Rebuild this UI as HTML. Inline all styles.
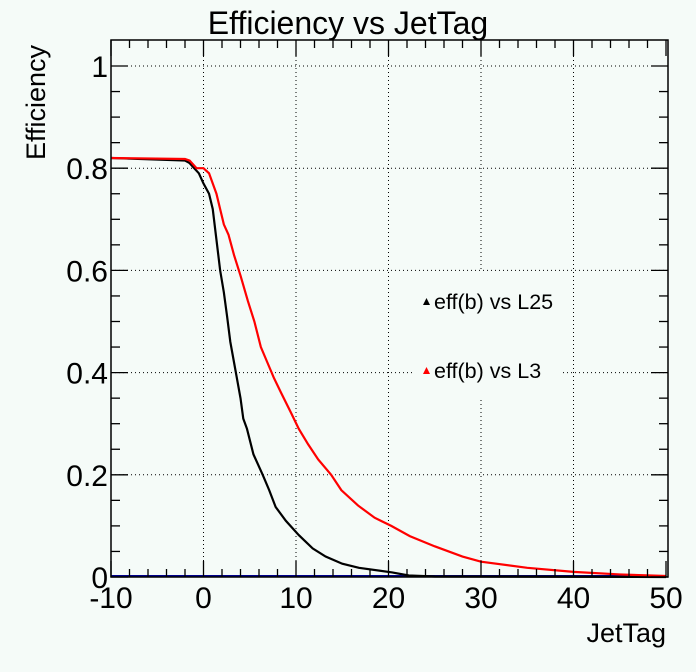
<!DOCTYPE html>
<html><head><meta charset="utf-8"><style>
html,body{margin:0;padding:0;background:#f5fbf8;}
svg{display:block;font-family:"Liberation Sans",sans-serif;}
</style></head><body>
<svg id="c" width="696" height="672" viewBox="0 0 696 672">
<rect width="696" height="672" fill="#f5fbf8"/>
<text x="348" y="34" font-size="32" text-anchor="middle">Efficiency vs JetTag</text>
<g id="grid"></g>
<g id="series"></g>
<rect x="111" y="40" width="557" height="537" fill="none" stroke="#000" stroke-width="1.5"/>
<g id="axes"></g>
<text x="666" y="642" font-size="27" text-anchor="end">JetTag</text>
<text transform="translate(45,160) rotate(-90)" font-size="27">Efficiency</text>
<g>
<rect x="413" y="272" width="150" height="128" fill="#f5fbf8"/>
<g>
<polygon points="423,305 430,305 426.5,298" fill="#000"/>
<text x="434" y="309" font-size="21.5">eff(b) vs L25</text>
</g>
<g>
<polygon points="423,374 430,374 426.5,367" fill="#f00"/>
<text x="434" y="378" font-size="21.5">eff(b) vs L3</text>
</g>
</g>
</svg>
<script>
const xTicks = [-10, 0, 10, 20, 30, 40, 50];
const yTicks = [0, 0.2, 0.4, 0.6, 0.8, 1];
const yTickLabels = ["0", "0.2", "0.4", "0.6", "0.8", "1"];
const l25X = [-10, -2, -1.5, -1, -0.5, 0, 0.6, 1.0, 1.4, 1.8, 2.2, 2.55, 2.9, 3.3, 3.6, 4.0, 4.3, 4.7, 5.4, 6.4, 7.1, 7.8, 8.9, 10.3, 11.8, 13.2, 15, 16.8, 20.4, 22.2, 25, 50];
const l25Y = [0.82, 0.815, 0.81, 0.80, 0.79, 0.77, 0.75, 0.72, 0.66, 0.60, 0.557, 0.51, 0.46, 0.42, 0.39, 0.35, 0.31, 0.29, 0.24, 0.20, 0.17, 0.137, 0.11, 0.082, 0.056, 0.04, 0.026, 0.018, 0.009, 0.003, 0.001, 0];
const l3X = [-10, -2, -1.5, -0.75, 0, 0.6, 1.0, 1.4, 1.8, 2.2, 2.7, 3.3, 4.0, 4.8, 5.5, 6.2, 6.9, 7.6, 8.4, 9.5, 10.3, 11.3, 12.4, 13.8, 14.9, 16.7, 18.5, 20.3, 22.3, 25, 28, 30, 35, 40, 45, 50];
const l3Y = [0.82, 0.818, 0.815, 0.80, 0.80, 0.79, 0.77, 0.75, 0.72, 0.69, 0.67, 0.63, 0.59, 0.54, 0.50, 0.45, 0.42, 0.39, 0.36, 0.32, 0.29, 0.26, 0.23, 0.20, 0.17, 0.14, 0.116, 0.10, 0.08, 0.06, 0.04, 0.03, 0.018, 0.01, 0.005, 0.002];

const NS = "http://www.w3.org/2000/svg";
const X0 = 111, X1 = 666, Y0 = 577, Y1 = 66;
function sx(v){ return X0 + (v + 10) / 60 * (X1 - X0); }
function sy(v){ return Y0 - v * (Y0 - Y1); }
function mk(tag, attrs, parent){
  const e = document.createElementNS(NS, tag);
  for (const k in attrs) e.setAttribute(k, attrs[k]);
  parent.appendChild(e); return e;
}
const grid = document.getElementById('grid');
const axes = document.getElementById('axes');
const series = document.getElementById('series');

xTicks.forEach(function(t){
  const x = sx(t);
  if (t > -10 && t < 50) {
    const g = mk('line', {x1:x, x2:x, y1:40, y2:577, stroke:'#000', 'stroke-width':1, 'stroke-dasharray':'1,3'}, grid);
    
    
  }
  const lb = mk('text', {x:x, y:608, 'font-size':30, 'text-anchor':'middle'}, axes);
  lb.textContent = String(t);
  
  
});
yTicks.forEach(function(t, i){
  const y = sy(t);
  if (t > 0) {
    const g = mk('line', {x1:111, x2:668, y1:y, y2:y, stroke:'#000', 'stroke-width':1, 'stroke-dasharray':'1,3'}, grid);
    
    
  }
  const lb = mk('text', {x:108, y:y + 11, 'font-size':30, 'text-anchor':'end'}, axes);
  lb.textContent = yTickLabels[i];
  
  
});
for (let v = -10; v <= 50; v += 2) {
  const x = sx(v); const len = (v % 10 === 0) ? 16 : 8;
  const a = mk('line', {x1:x, x2:x, y1:577, y2:577 - len, stroke:'#000', 'stroke-width':1.3}, axes);
  
  
  const b = mk('line', {x1:x, x2:x, y1:40, y2:40 + len, stroke:'#000', 'stroke-width':1.3}, axes);
  
  
}
for (let k = 0; k <= 20; k++) {
  const v = k * 0.05; const y = sy(v); const len = (k % 4 === 0) ? 17 : 9;
  const a = mk('line', {x1:111, x2:111 + len, y1:y, y2:y, stroke:'#000', 'stroke-width':1.3}, axes);
  
  
  const b = mk('line', {x1:668, x2:668 - len, y1:y, y2:y, stroke:'#000', 'stroke-width':1.3}, axes);
  
  
}
function linePath(xs, ys){
  let d = 'M' + sx(xs[0]) + ',' + sy(ys[0]);
  for (let i = 1; i < xs.length; i++) d += ' L' + sx(xs[i]) + ',' + sy(ys[i]);
  return d;
}
const base = mk('line', {x1:111, x2:666, y1:576, y2:576, stroke:'#00008b', 'stroke-width':2}, series);


const p1 = mk('path', {d:linePath(l25X, l25Y), fill:'none', stroke:'#000', 'stroke-width':2.2}, series);


const p2 = mk('path', {d:linePath(l3X, l3Y), fill:'none', stroke:'#f00', 'stroke-width':2.2}, series);


</script>
</body></html>
